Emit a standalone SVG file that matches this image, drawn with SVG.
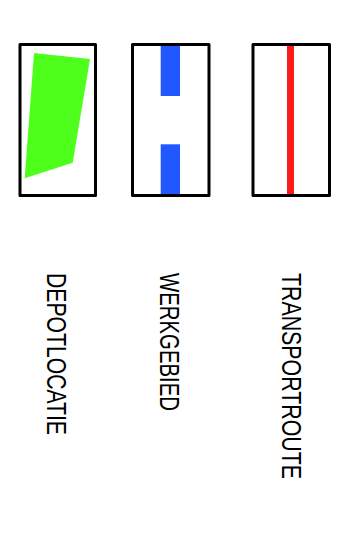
<svg xmlns="http://www.w3.org/2000/svg" width="360" height="540" viewBox="0 0 360 540">
<style>
.box{fill:none;stroke:#000;stroke-width:3;stroke-linejoin:round}
.lbl{font-family:"Liberation Sans","DejaVu Sans",sans-serif;font-size:27px;fill:#000}
</style>
<rect width="360" height="540" fill="#fff"/>
<g id="depotlocatie">
<polygon points="34,53 90,59 72.7,162.7 24.7,178.3" fill="#4dff1a"/>
<rect class="box" x="20" y="44.5" width="75.5" height="151"/>
<text class="lbl" transform="translate(47.3,273) rotate(90)" textLength="162" lengthAdjust="spacingAndGlyphs">DEPOTLOCATIE</text>
</g>
<g id="werkgebied">
<rect x="160.7" y="45" width="19.3" height="51" fill="#2057ff"/>
<rect x="160.7" y="144.3" width="19.3" height="51.2" fill="#2057ff"/>
<rect class="box" x="132.5" y="44.5" width="76.5" height="151"/>
<text class="lbl" transform="translate(159.5,273) rotate(90)" textLength="138" lengthAdjust="spacingAndGlyphs">WERKGEBIED</text>
</g>
<g id="transportroute">
<line x1="290.5" y1="46" x2="290.5" y2="194.5" stroke="#ff1a1a" stroke-width="7"/>
<rect class="box" x="253" y="44.5" width="76.5" height="151"/>
<text class="lbl" transform="translate(281.5,273) rotate(90)" textLength="206" lengthAdjust="spacingAndGlyphs">TRANSPORTROUTE</text>
</g>
<g id="connectors"/>
</svg>
